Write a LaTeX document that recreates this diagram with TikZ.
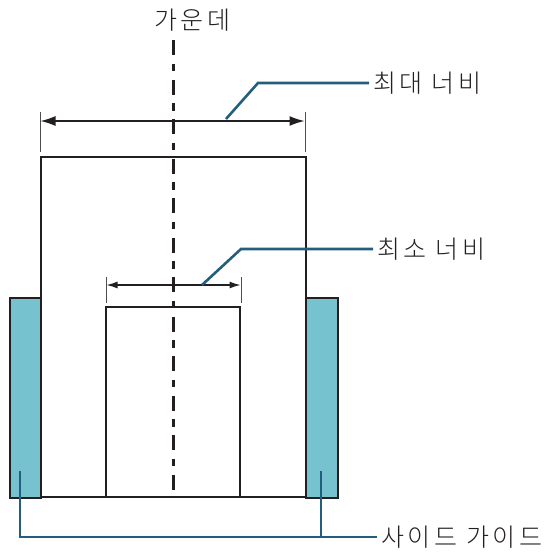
\documentclass[tikz,border=0pt]{standalone}
\usepackage{fontspec}
\newfontfamily\krfont{Noto Sans CJK KR Light}[LetterSpace=14]
\usetikzlibrary{arrows.meta}
\definecolor{guidefill}{HTML}{76C2CF}
\definecolor{leadercol}{HTML}{235E7E}
\definecolor{inkcol}{HTML}{231F20}
\tikzset{
  edge/.style={line width=2.5pt, draw=inkcol},
  guidebox/.style={edge, fill=guidefill},
  dimline/.style={line width=1.3pt, draw=inkcol},
  tickline/.style={line width=1pt, draw=inkcol!80},
  leader/.style={line width=2.6pt, draw=leadercol},
  lbl/.style={font=\krfont\fontsize{25}{25}\selectfont, text=inkcol, inner sep=4pt}
}
\begin{document}
\begin{tikzpicture}[x=1pt,y=-1pt]
  \useasboundingbox (0,0) rectangle (553,555);
  % Side guides
  \draw[guidebox] (10,298) rectangle (41,498);
  \draw[guidebox] (306,298) rectangle (338,498);
  % Widest document
  \draw[edge] (41,497) -- (41,157) -- (306,157) -- (306,497);
  \draw[edge] (41,497) -- (306,497);
  % Narrowest document
  \draw[line width=2.2pt, draw=inkcol] (106,307) rectangle (240,497);
  % Centre line
  \draw[line width=3pt, draw=inkcol, dash pattern=on 15pt off 8.5pt on 7.5pt off 8.5pt]
    (173,40) -- (173,497);
  % Dimension ticks
  \draw[tickline] (40,112) -- (40,152);
  \draw[tickline] (305,112) -- (305,152);
  \draw[tickline] (106,277) -- (106,303);
  \draw[tickline] (241,277) -- (241,303);
  % Dimension arrows
  \draw[dimline, {Latex[length=15pt,width=10pt]}-{Latex[length=15pt,width=10pt]}]
    (40.5,121) -- (304.5,121);
  \draw[dimline, {Latex[length=11pt,width=7pt]}-{Latex[length=11pt,width=7pt]}]
    (106.5,285) -- (240.5,285);
  % Labels
  \node[lbl] (centrelbl) at (192,20) {가운데};
  \node[lbl, anchor=west] (maxlbl) at (369,83) {최대 너비};
  \node[lbl, anchor=west] (minlbl) at (373,249) {최소 너비};
  \node[lbl, anchor=west] (guidelbl) at (377,537) {사이드 가이드};
  % Leaders
  \coordinate (maxpt) at (226,119);
  \coordinate (minpt) at (202,285);
  \coordinate (lguide) at (20,471);
  \coordinate (rguide) at (321,471);
  \draw[leader] (maxpt) -- (258,83) -- (maxlbl.west);
  \draw[leader] (minpt) -- (241,249) -- (minlbl.west);
  \draw[leader] (lguide) -- (20,537) -- (guidelbl.west);
  \draw[leader] (rguide) -- (321,537);
\end{tikzpicture}
\end{document}
